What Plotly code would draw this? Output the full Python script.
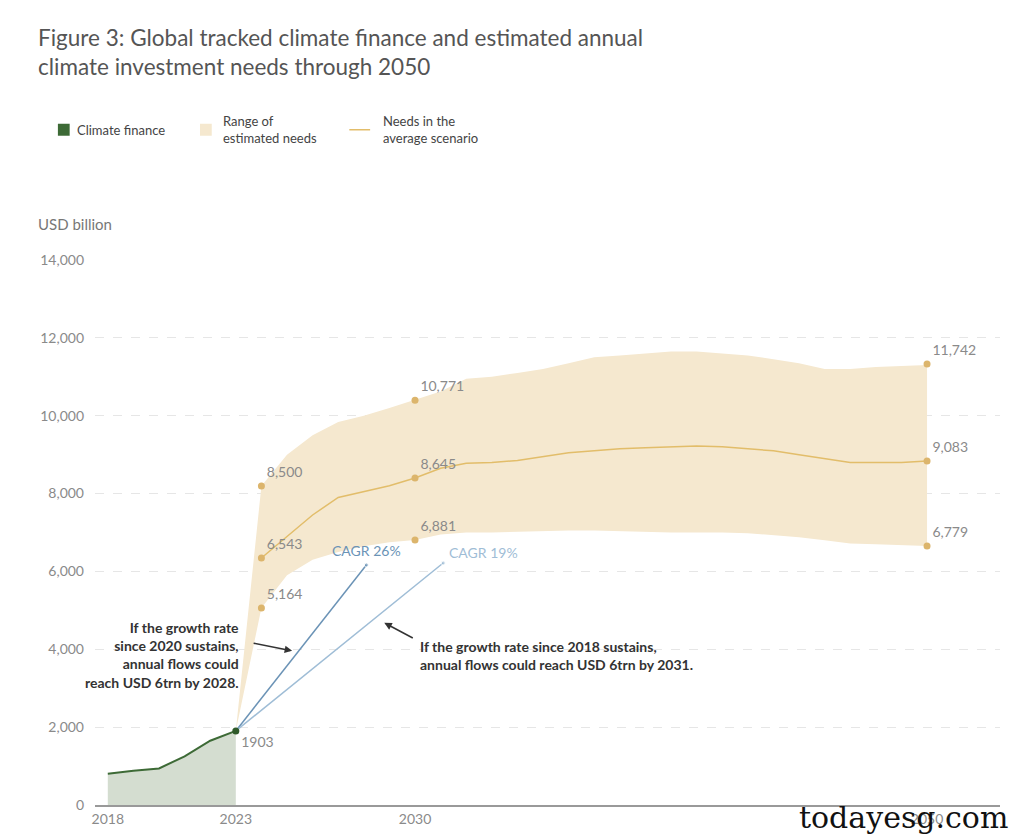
import plotly.graph_objects as go

fin_years = [2018, 2019, 2020, 2021, 2022, 2023]
fin_vals = [800, 880, 940, 1250, 1650, 1903]

need_years = [2023, 2024, 2025, 2026, 2027, 2028, 2029, 2030, 2031, 2032, 2033, 2034, 2035, 2036, 2037,
              2038, 2039, 2040, 2041, 2042, 2043, 2044, 2045, 2046, 2047, 2048, 2049, 2050]
upper = [1903, 8194, 9000, 9500, 9840, 10000, 10200, 10400, 10620, 10950, 11000, 11100, 11200, 11350, 11500,
         11550, 11600, 11650, 11650, 11600, 11550, 11450, 11350, 11200, 11200, 11250, 11280, 11300]
lower = [1903, 5060, 5900, 6300, 6500, 6650, 6750, 6810, 6950, 7000, 7000, 7020, 7040, 7050, 7050,
         7030, 7010, 7000, 7000, 7000, 6980, 6930, 6880, 6800, 6720, 6700, 6680, 6653]
avg = [None, 6345, 6900, 7450, 7900, 8050, 8200, 8400, 8650, 8780, 8800, 8850, 8950, 9050, 9100,
       9150, 9180, 9200, 9220, 9200, 9150, 9100, 9000, 8900, 8800, 8800, 8800, 8836]

mark_x = [2024, 2024, 2024, 2030, 2030, 2030, 2050, 2050, 2050]
mark_y = [8194, 6345, 5060, 10400, 8400, 6810, 11328, 8836, 6653]
mark_lbl = ["8,500", "6,543", "5,164", "10,771", "8,645", "6,881", "11,742", "9,083", "6,779"]

cagr26 = ([2023, 2028.1], [1903, 6165])
cagr19 = ([2023, 2031.1], [1903, 6216])

x_ticks = [2018, 2023, 2030, 2050]
y_ticks = [0, 2000, 4000, 6000, 8000, 10000, 12000, 14000]

GRAY = "#8a8a8a"
F = "Lato"
fig = go.Figure()
fig.add_trace(go.Scatter(x=need_years, y=lower, mode="lines", line=dict(width=0), showlegend=False, hoverinfo="skip"))
fig.add_trace(go.Scatter(x=need_years, y=upper, mode="lines", line=dict(width=0), fill="tonexty",
                         fillcolor="#f5e8cf", showlegend=False))
fig.add_trace(go.Scatter(x=need_years, y=avg, mode="lines", line=dict(color="#e2bd6a", width=1.5), showlegend=False))
fig.add_trace(go.Scatter(x=fin_years, y=fin_vals, mode="lines", line=dict(color="#3d6a36", width=2),
                         fill="tozeroy", fillcolor="#d4ddd0", showlegend=False))
fig.add_trace(go.Scatter(x=cagr26[0], y=cagr26[1], mode="lines+markers", line=dict(color="#6b93b6", width=1.5),
                         marker=dict(size=[0, 4], color="#6b93b6"), showlegend=False))
fig.add_trace(go.Scatter(x=cagr19[0], y=cagr19[1], mode="lines+markers", line=dict(color="#9fbdd6", width=1.5),
                         marker=dict(size=[0, 4], color="#9fbdd6"), showlegend=False))
fig.add_trace(go.Scatter(x=mark_x, y=mark_y, mode="markers+text", text=mark_lbl, textposition="top right",
                         textfont=dict(color=GRAY, size=14, family=F),
                         marker=dict(color="#dcb56c", size=7), showlegend=False))
fig.add_trace(go.Scatter(x=[fin_years[-1]], y=[fin_vals[-1]], mode="markers+text", text=["1903"],
                         textposition="bottom right", textfont=dict(color=GRAY, size=14, family=F),
                         marker=dict(color="#2f5a2a", size=7), showlegend=False))

ann = [
    dict(x=2028.1, y=6165, text="CAGR 26%", font=dict(color="#6b93b6", size=14), xanchor="center", yanchor="bottom", yshift=4, showarrow=False),
    dict(x=2031.1, y=6216, text="CAGR 19%", font=dict(color="#9fbdd6", size=14), xanchor="left", yanchor="bottom", xshift=4, showarrow=False),
    dict(x=2023.2, y=3850, text="<b>If the growth rate<br>since 2020 sustains,<br>annual flows could<br>reach USD 6trn by 2028.</b>",
         font=dict(color="#333", size=14), align="right", xanchor="right", yanchor="middle", showarrow=False),
    dict(x=2030.1, y=4350, text="<b>If the growth rate since 2018 sustains,<br>annual flows could reach USD 6trn by 2031.</b>",
         font=dict(color="#333", size=14), align="left", xanchor="left", yanchor="top", showarrow=False),
    dict(x=2025.2, y=3960, ax=-40, ay=-8, text="", showarrow=True, arrowhead=2, arrowsize=1, arrowwidth=1.5, arrowcolor="#333"),
    dict(x=2028.8, y=4680, ax=30, ay=16, text="", showarrow=True, arrowhead=2, arrowsize=1, arrowwidth=1.5, arrowcolor="#333"),
    dict(x=-0.065, y=1.437, xref="paper", yref="paper", text="Figure 3: Global tracked climate finance and estimated annual<br>climate investment needs through 2050",
         font=dict(color="#555", size=22.5), align="left", xanchor="left", yanchor="top", showarrow=False),
    dict(x=-0.065, y=1.046, xref="paper", yref="paper", text="USD billion", font=dict(color="#777", size=15),
         xanchor="left", yanchor="bottom", showarrow=False),
    dict(x=-0.022, y=1.239, xref="paper", yref="paper", text="Climate finance", font=dict(color="#444", size=13),
         xanchor="left", yanchor="middle", showarrow=False),
    dict(x=0.139, y=1.239, xref="paper", yref="paper", text="Range of<br>estimated needs", font=dict(color="#444", size=13),
         xanchor="left", yanchor="middle", align="left", showarrow=False),
    dict(x=0.316, y=1.239, xref="paper", yref="paper", text="Needs in the<br>average scenario", font=dict(color="#444", size=13),
         xanchor="left", yanchor="middle", align="left", showarrow=False),
    dict(x=1.011, y=-0.058, xref="paper", yref="paper", text="todayesg.com", font=dict(color="#111", size=30, family="DejaVu Serif"),
         xanchor="right", yanchor="bottom", showarrow=False),
]
for a in ann:
    a.setdefault("font", {}).setdefault("family", F)

shapes = [
    dict(type="rect", xref="paper", yref="paper", x0=-0.041, x1=-0.028, y0=1.228, y1=1.250, fillcolor="#3d6a36", line_width=0),
    dict(type="rect", xref="paper", yref="paper", x0=0.116, x1=0.129, y0=1.228, y1=1.250, fillcolor="#f5e8cf", line_width=0),
    dict(type="line", xref="paper", yref="paper", x0=0.281, x1=0.304, y0=1.239, y1=1.239, line=dict(color="#e2bd6a", width=1.5)),
]

fig.update_layout(
    width=1024, height=839, paper_bgcolor="white", plot_bgcolor="white",
    margin=dict(l=87, r=32, t=252, b=42),
    annotations=ann, shapes=shapes, font=dict(family=F),
    xaxis=dict(range=[2017.5, 2052.85], tickvals=x_ticks, ticktext=[str(v) for v in x_ticks], showgrid=False,
               zeroline=False, showline=True, linecolor="#999", linewidth=1.5, ticks="",
               tickfont=dict(color=GRAY, size=14)),
    yaxis=dict(range=[0, 14000], tickvals=y_ticks, ticktext=[f"{v:,}" for v in y_ticks], showgrid=True,
               gridcolor="#e6e6e6", griddash="dash", zeroline=False, tickfont=dict(color=GRAY, size=14),
               ticklabelstandoff=10),
)
fig.write_html("out.html")
